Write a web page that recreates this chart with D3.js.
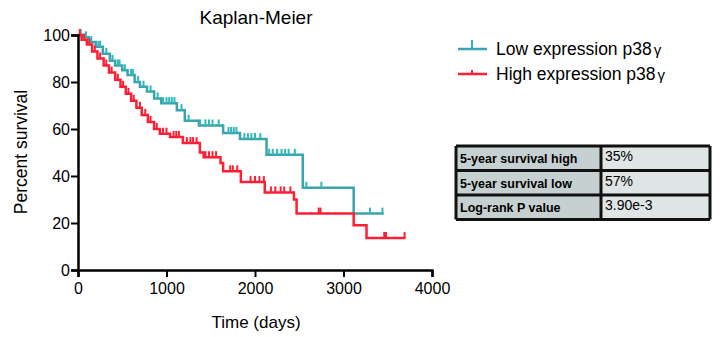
<!DOCTYPE html>
<html>
<head>
<meta charset="utf-8">
<script src="https://cdn.jsdelivr.net/npm/d3@7"></script>
<style>
  body { margin: 0; background: #fff; }
  svg { font-family: "Liberation Sans", Arial, sans-serif; }
</style>
</head>
<body>
<div id="chart"></div>
<script>
// step points (time in days, percent surviving after the drop)
var lowTimes = [0, 60, 120, 200, 280, 360, 420, 500, 560, 640, 700, 780, 860, 940, 1117, 1207, 1366, 1640, 1830, 2130, 2540, 3115, 3455];
var lowSurv  = [100, 99, 97, 95, 92, 89, 87, 85, 83, 80, 78, 76, 73, 71, 68, 63.5, 61.5, 58.3, 55.7, 49, 35, 24, 24];
var lowCensor = [30, 90, 150, 230, 250, 320, 390, 450, 470, 530, 600, 620, 680, 740, 820, 900, 960, 1000, 1030, 1060, 1090,
                 1170, 1250, 1380, 1440, 1480, 1520, 1590, 1700, 1730, 1760, 1790, 1880, 1920, 1960, 2000, 2060, 2160, 2200,
                 2250, 2300, 2340, 2380, 2450, 2580, 2750, 3300, 3440];

var highTimes = [0, 40, 100, 160, 220, 290, 350, 420, 480, 540, 600, 660, 720, 790, 860, 925, 1040, 1185, 1377, 1420, 1610, 1640, 1840, 2110, 2440, 2470, 3115, 3260, 3700];
var highSurv  = [100, 98, 96, 93, 90, 87, 84, 81, 78, 75, 72, 69, 66, 63, 60, 58, 56.6, 54, 50, 48, 45.5, 42, 37.4, 33, 30, 24, 19, 13.6, 13.6];
var highCensor = [20, 70, 130, 190, 250, 320, 380, 450, 510, 570, 630, 700, 760, 820, 890, 960, 1000, 1080, 1110, 1140,
                  1230, 1270, 1300, 1340, 1440, 1480, 1520, 1560, 1720, 1750, 1800, 1950, 2000, 2050, 2100, 2180, 2230,
                  2290, 2330, 2400, 2720, 2740, 3460, 3480, 3690];

var yTicks = [0, 20, 40, 60, 80, 100];
var xTicks = [0, 1000, 2000, 3000, 4000];

var tableLabels = ["5-year survival high", "5-year survival low", "Log-rank P value"];
var tableValues = ["35%", "57%", "3.90e-3"];

var lowColor = "#2fb8bb", lowLine = "#3aa3ad";
var highColor = "#ff1f35";

var width = 720, height = 337;
var margin = {top: 35, left: 78};
var plotW = 354, plotH = 235;

var svg = d3.select("#chart").append("svg")
    .attr("width", width)
    .attr("height", height);

var x = d3.scaleLinear().domain([0, 4000]).range([margin.left, margin.left + plotW]);
var y = d3.scaleLinear().domain([0, 100]).range([margin.top + plotH, margin.top]);

// value of step function at time t
function survAt(times, surv, t) {
    var v = surv[0];
    for (var i = 0; i < times.length; i++) {
        if (times[i] <= t) v = surv[i];
    }
    return v;
}

function drawCurve(times, surv, censor, lineColor, tickColor) {
    var pts = times.map(function(t, i) { return [t, surv[i]]; });
    var line = d3.line()
        .x(function(d) { return x(d[0]); })
        .y(function(d) { return y(d[1]); })
        .curve(d3.curveStepAfter);
    svg.append("path")
        .datum(pts)
        .attr("fill", "none")
        .attr("stroke", lineColor)
        .attr("stroke-width", 2.5)
        .attr("d", line);

    svg.append("g").selectAll("line")
        .data(censor)
        .enter().append("line")
        .attr("x1", function(d) { return x(d); })
        .attr("x2", function(d) { return x(d); })
        .attr("y1", function(d) { return y(survAt(times, surv, d)); })
        .attr("y2", function(d) { return y(survAt(times, surv, d)) - 6; })
        .attr("stroke", tickColor)
        .attr("stroke-width", 2);
}

drawCurve(lowTimes, lowSurv, lowCensor, lowLine, lowColor);
drawCurve(highTimes, highSurv, highCensor, highColor, highColor);

// axes
var yAxis = svg.append("g")
    .attr("transform", "translate(" + margin.left + ",0)")
    .call(d3.axisLeft(y).tickValues(yTicks).tickSize(7).tickPadding(1));
var xAxis = svg.append("g")
    .attr("transform", "translate(0," + (margin.top + plotH) + ")")
    .call(d3.axisBottom(x).tickValues(xTicks).tickFormat(d3.format("d")).tickSize(7).tickPadding(3));

[xAxis, yAxis].forEach(function(a) {
    a.select(".domain").attr("stroke", "#000").attr("stroke-width", 2.5);
    a.selectAll(".tick line").attr("stroke", "#000").attr("stroke-width", 2);
    a.selectAll(".tick text")
        .attr("fill", "#000")
        .style("font-size", "16px")
        .style("font-family", "Liberation Sans, Arial, sans-serif");
});
xAxis.selectAll(".tick text").attr("dy", "0.85em");

// titles
svg.append("text")
    .attr("x", 256).attr("y", 24)
    .attr("text-anchor", "middle")
    .style("font-size", "19px")
    .text("Kaplan-Meier");

svg.append("text")
    .attr("x", 256).attr("y", 328)
    .attr("text-anchor", "middle")
    .style("font-size", "17px")
    .text("Time (days)");

svg.append("text")
    .attr("transform", "translate(27,152) rotate(-90)")
    .attr("text-anchor", "middle")
    .style("font-size", "17.5px")
    .text("Percent survival");

// legend
var legend = [
    {name: "Low expression p38", color: lowColor, line: lowLine, y: 49, tickH: 9},
    {name: "High expression p38", color: highColor, line: highColor, y: 74, tickH: 4}
];
legend.forEach(function(l) {
    svg.append("line")
        .attr("x1", 458).attr("x2", 487).attr("y1", l.y).attr("y2", l.y)
        .attr("stroke", l.line).attr("stroke-width", 2.5);
    svg.append("line")
        .attr("x1", 472).attr("x2", 472).attr("y1", l.y).attr("y2", l.y - l.tickH)
        .attr("stroke", l.color).attr("stroke-width", 2);
    var t = svg.append("text")
        .attr("x", 496).attr("y", l.y + 6)
        .style("font-size", "17.5px")
        .text(l.name);
    t.append("tspan").attr("dx", 2).style("font-size", "15px").text("γ");
});

// table
var tx0 = 456, tx1 = 601, tx2 = 710, ty0 = 146, rowH = 24.5;
tableLabels.forEach(function(lab, i) {
    var ty = ty0 + i * rowH;
    svg.append("rect")
        .attr("x", tx0).attr("y", ty).attr("width", tx1 - tx0).attr("height", rowH)
        .attr("fill", "#c6d0d0");
    svg.append("rect")
        .attr("x", tx1).attr("y", ty).attr("width", tx2 - tx1).attr("height", rowH)
        .attr("fill", "#dfe5e5");
    svg.append("text")
        .attr("x", tx0 + 4).attr("y", ty + 17)
        .style("font-size", "12.5px").style("font-weight", "bold")
        .text(lab);
    svg.append("text")
        .attr("x", tx1 + 4).attr("y", ty + 15)
        .style("font-size", "14px")
        .text(tableValues[i]);
});
svg.append("g").selectAll("line")
    .data(d3.range(tableLabels.length + 1))
    .enter().append("line")
    .attr("x1", tx0).attr("x2", tx2)
    .attr("y1", function(d) { return ty0 + d * rowH; })
    .attr("y2", function(d) { return ty0 + d * rowH; })
    .attr("stroke", "#111").attr("stroke-width", 3);
svg.append("g").selectAll("line")
    .data([tx0, tx1, tx2])
    .enter().append("line")
    .attr("x1", function(d) { return d; }).attr("x2", function(d) { return d; })
    .attr("y1", ty0).attr("y2", ty0 + rowH * tableLabels.length)
    .attr("stroke", "#111").attr("stroke-width", 3);
</script>
</body>
</html>
